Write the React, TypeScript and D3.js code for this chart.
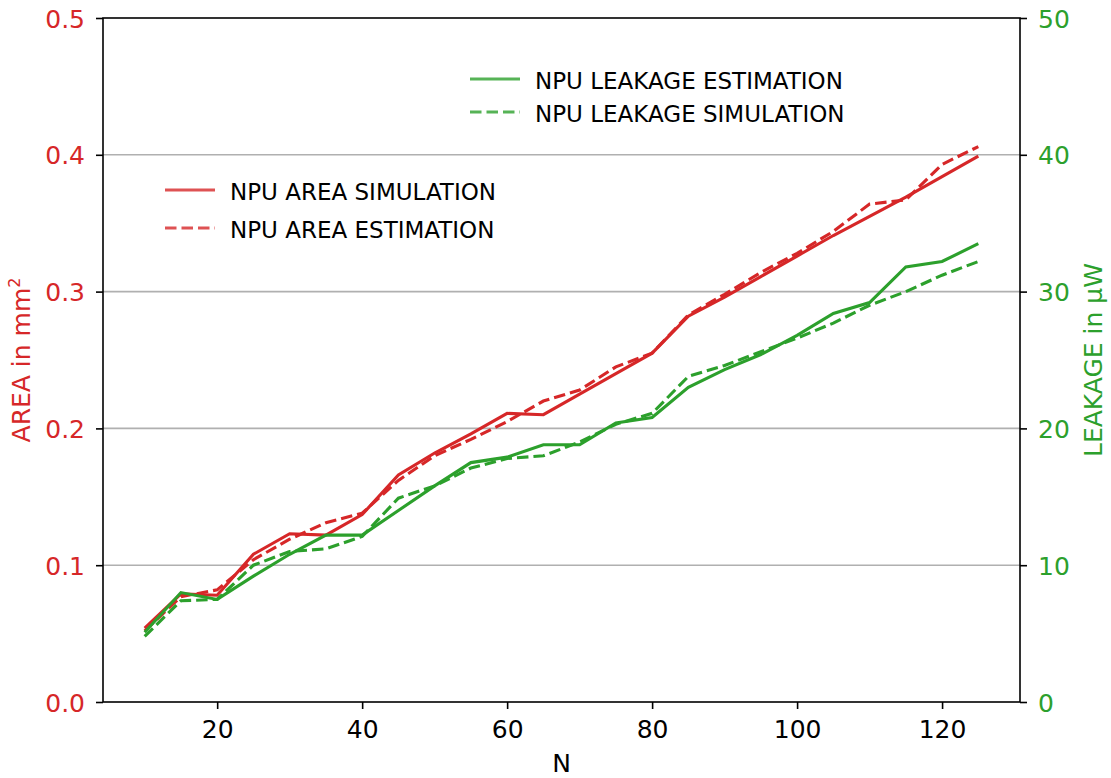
import { useEffect, useRef } from "react";
import * as d3 from "d3";

const nValues = [10, 15, 20, 25, 30, 35, 40, 45, 50, 55, 60, 65, 70, 75, 80, 85, 90, 95, 100, 105, 110, 115, 120, 125];

// area in mm^2 (left axis)
const areaSimulation = [0.054, 0.079, 0.078, 0.108, 0.123, 0.122, 0.137, 0.166, 0.182, 0.196, 0.211, 0.21, 0.225, 0.24, 0.255, 0.282, 0.296, 0.311, 0.326, 0.341, 0.355, 0.369, 0.384, 0.399];
const areaEstimation = [0.052, 0.077, 0.082, 0.104, 0.119, 0.131, 0.138, 0.162, 0.18, 0.192, 0.205, 0.22, 0.228, 0.245, 0.255, 0.283, 0.298, 0.314, 0.328, 0.344, 0.364, 0.367, 0.393, 0.406];

// leakage in uW (right axis)
const leakageEstimation = [5.1, 8.0, 7.5, 9.2, 10.8, 12.2, 12.2, 14.0, 15.8, 17.5, 17.9, 18.8, 18.8, 20.4, 20.8, 23.0, 24.3, 25.4, 26.8, 28.4, 29.2, 31.8, 32.2, 33.5];
const leakageSimulation = [4.8, 7.4, 7.5, 10.0, 11.0, 11.2, 12.1, 14.9, 15.8, 17.1, 17.8, 18.0, 19.0, 20.3, 21.1, 23.8, 24.6, 25.6, 26.6, 27.7, 29.0, 30.0, 31.2, 32.2];

const xTicks = [20, 40, 60, 80, 100, 120];
const areaTicks = [0, 0.1, 0.2, 0.3, 0.4, 0.5];
const leakageTicks = [0, 10, 20, 30, 40, 50];

const RED = "#d62728";
const GREEN = "#2ca02c";
const FONT = "DejaVu Sans, sans-serif";

export default function App() {
  const svgRef = useRef<SVGSVGElement>(null);

  useEffect(() => {
    const svg = d3.select(svgRef.current);
    svg.selectAll("*").remove();

    const width = 1111;
    const height = 778;
    const margin = { top: 18, right: 91, bottom: 76, left: 103 };
    const innerW = width - margin.left - margin.right;
    const innerH = height - margin.top - margin.bottom;

    const g = svg.append("g").attr("transform", `translate(${margin.left},${margin.top})`);

    const x = d3.scaleLinear().domain([4.25, 130.75]).range([0, innerW]);
    const yArea = d3.scaleLinear().domain([0, 0.5]).range([innerH, 0]);
    const yLeak = d3.scaleLinear().domain([0, 50]).range([innerH, 0]);

    // horizontal grid
    g.append("g")
      .selectAll("line")
      .data(areaTicks.slice(1, -1))
      .join("line")
      .attr("x1", 0)
      .attr("x2", innerW)
      .attr("y1", (d) => yArea(d))
      .attr("y2", (d) => yArea(d))
      .attr("stroke", "#b0b0b0")
      .attr("stroke-width", 1.6);

    const drawLine = (vals: number[], y: d3.ScaleLinear<number, number>, color: string, dashed: boolean) => {
      const line = d3
        .line<number>()
        .x((_, i) => x(nValues[i]))
        .y((d) => y(d));
      g.append("path")
        .datum(vals)
        .attr("d", line)
        .attr("fill", "none")
        .attr("stroke", color)
        .attr("stroke-width", 3.1)
        .attr("stroke-dasharray", dashed ? "11.5,5" : null);
    };

    drawLine(areaSimulation, yArea, RED, false);
    drawLine(areaEstimation, yArea, RED, true);
    drawLine(leakageEstimation, yLeak, GREEN, false);
    drawLine(leakageSimulation, yLeak, GREEN, true);

    // axes
    const styleAxis = (sel: any, color: string) => {
      sel.select(".domain").remove();
      sel.selectAll(".tick line").attr("stroke", "#000").attr("stroke-width", 1.6);
      sel.selectAll(".tick text").attr("fill", color).style("font-family", FONT).style("font-size", "25px");
    };

    const xAxis = g
      .append("g")
      .attr("transform", `translate(0,${innerH})`)
      .call(d3.axisBottom(x).tickValues(xTicks).tickSize(7).tickPadding(11).tickFormat(d3.format("d")));
    styleAxis(xAxis, "#000");

    const leftAxis = g
      .append("g")
      .call(d3.axisLeft(yArea).tickValues(areaTicks).tickSize(7).tickPadding(11).tickFormat(d3.format(".1f")));
    styleAxis(leftAxis, RED);
    leftAxis.selectAll(".tick text").attr("dy", "0.36em");

    const rightAxis = g
      .append("g")
      .attr("transform", `translate(${innerW},0)`)
      .call(d3.axisRight(yLeak).tickValues(leakageTicks).tickSize(7).tickPadding(11).tickFormat(d3.format("d")));
    styleAxis(rightAxis, GREEN);
    rightAxis.selectAll(".tick text").attr("dy", "0.36em");

    // frame
    g.append("rect")
      .attr("width", innerW)
      .attr("height", innerH)
      .attr("fill", "none")
      .attr("stroke", "#000")
      .attr("stroke-width", 1.6);

    // axis labels
    g.append("text")
      .attr("x", innerW / 2)
      .attr("y", innerH + 70)
      .attr("text-anchor", "middle")
      .style("font-family", FONT)
      .style("font-size", "25px")
      .text("N");

    const leftLabel = g
      .append("text")
      .attr("transform", `translate(${-73},${innerH / 2}) rotate(-90)`)
      .attr("text-anchor", "middle")
      .attr("fill", RED)
      .style("font-family", FONT)
      .style("font-size", "25px");
    leftLabel.append("tspan").text("AREA in mm");
    leftLabel.append("tspan").attr("font-size", "16px").attr("dy", "-0.6em").text("2");

    g.append("text")
      .attr("transform", `translate(${innerW + 82},${innerH / 2}) rotate(-90)`)
      .attr("text-anchor", "middle")
      .attr("fill", GREEN)
      .style("font-family", FONT)
      .style("font-size", "25px")
      .text("LEAKAGE in \u03bcW");

    // legends
    const legend = (items: { label: string; dashed: boolean }[], color: string, lx: number, ly: number, gap: number) => {
      items.forEach((it, i) => {
        const yy = ly + i * gap;
        svg.append("line")
          .attr("x1", lx)
          .attr("x2", lx + 50)
          .attr("y1", yy)
          .attr("y2", yy)
          .attr("stroke", color)
          .attr("stroke-width", 3.1)
          .attr("stroke-opacity", 0.8)
          .attr("stroke-dasharray", it.dashed ? "11.5,5" : null);
        svg.append("text")
          .attr("x", lx + 65)
          .attr("y", yy + 10)
          .style("font-family", FONT)
          .style("font-size", "23px")
          .text(it.label);
      });
    };

    legend(
      [
        { label: "NPU LEAKAGE ESTIMATION", dashed: false },
        { label: "NPU LEAKAGE SIMULATION", dashed: true },
      ],
      GREEN,
      470,
      79,
      33
    );
    legend(
      [
        { label: "NPU AREA SIMULATION", dashed: false },
        { label: "NPU AREA ESTIMATION", dashed: true },
      ],
      RED,
      165,
      190,
      38
    );
  }, []);

  return <svg ref={svgRef} width={1111} height={778} style={{ display: "block", position: "absolute", left: 0, top: 0 }} />;
}
